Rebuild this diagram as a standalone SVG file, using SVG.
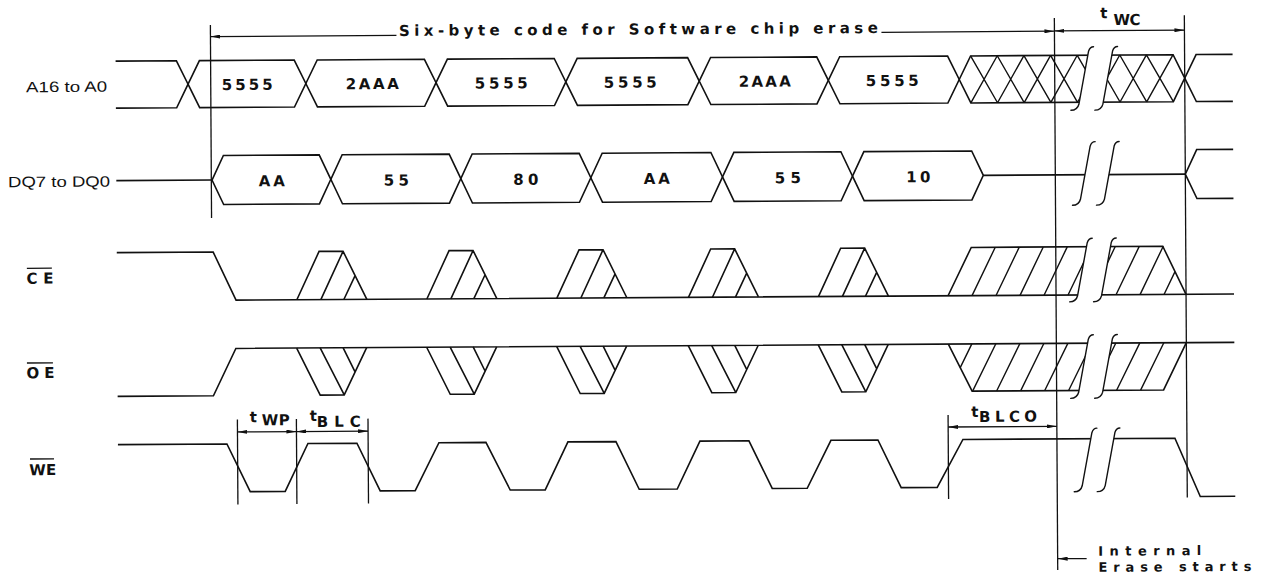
<svg xmlns="http://www.w3.org/2000/svg" xmlns:xlink="http://www.w3.org/1999/xlink" width="1266" height="578" viewBox="0 0 1266 578">
<style>
.s{fill:none;stroke:#111;stroke-width:1.6;stroke-linejoin:miter}
.h{fill:none;stroke:#111;stroke-width:1.4}
.v{fill:none;stroke:#111;stroke-width:1.3}
.m{fill:none;stroke:#111;stroke-width:1.4;stroke-linecap:round}
.gap{fill:#fff;stroke:none}
.p{font-family:"DejaVu Sans","Liberation Sans",sans-serif;font-weight:bold;font-size:15px;fill:#111}
.q{font-family:"DejaVu Sans","Liberation Sans",sans-serif;font-weight:bold;font-size:15px;fill:#111}
.r{font-family:"DejaVu Sans","Liberation Sans",sans-serif;font-weight:bold;font-size:13px;fill:#111}
.l{font-family:"Liberation Sans",Arial,sans-serif;font-size:15px;fill:#111}
.a{fill:none;stroke:#111;stroke-width:1.3;marker-start:url(#ar);marker-end:url(#ar)}
.ae{fill:none;stroke:#111;stroke-width:1.3;marker-end:url(#ar)}
.as{fill:none;stroke:#111;stroke-width:1.3;marker-start:url(#ar)}
</style>
<defs>
<marker id="ar" viewBox="0 0 10 4" refX="10" refY="2" markerWidth="10" markerHeight="4" markerUnits="userSpaceOnUse" orient="auto-start-reverse"><path d="M0,0 L10,2 L0,4 Z" fill="#111"/></marker>
<path id="brk" class="m" d="M-8,55 C-3,55 -1,53 0,49 L10,-4 C11,-7 12,-8.5 15,-8.5"/>
<path id="gp" class="gap" d="M9.8,-3 L33.8,-3 L23.8,50 L-0.2,50 Z"/>
<path id="cep" class="s" d="M0,297.7 L22.5,249.5 H46.5 L70,297.7 M24,297.7 L46.5,249.5 M47,297.7 L58.5,273.6"/>
<path id="oep" class="s" d="M0,346 L23.3,393.2 H47.3 L70,346 M23.5,346 L47.3,393.2 M46.5,346 L58,369.6"/>
<clipPath id="cal"><polygon points="960,50 1090.75,50 1078.5,115 960,115"/></clipPath>
<clipPath id="car"><polygon points="1114.75,50 1200,50 1200,115 1102.5,115"/></clipPath>
</defs>
<g transform="rotate(-0.35 633 289)">
<g id="sig-a">
<path class="s" d="M117,58 H177.8 L189.3,81.5 L177.8,105 H117"/>
<path class="s" d="M189.3,81.5 L200.8,58 H295.6 L307.1,81.5 L295.6,105 H200.8 Z"/>
<path class="s" d="M307.1,81.5 L318.6,58 H425.8 L437.3,81.5 L425.8,105 H318.6 Z"/>
<path class="s" d="M437.3,81.5 L448.8,58 H555.6 L567.1,81.5 L555.6,105 H448.8 Z"/>
<path class="s" d="M567.1,81.5 L578.6,58 H689 L700.5,81.5 L689,105 H578.6 Z"/>
<path class="s" d="M700.5,81.5 L712,58 H818.1 L829.6,81.5 L818.1,105 H712 Z"/>
<path class="s" d="M829.6,81.5 L841.1,58 H949 L960.5,81.5 L949,105 H841.1 Z"/>
<path class="s" d="M960.5,81.5 L972,58 H1174.5 L1186,81.5 L1174.5,105 H972 Z"/>
<path class="s" d="M1234,58 H1197.5 L1186,81.5 L1197.5,105 H1234"/>
<path class="h" clip-path="url(#cal)" d="M972,58 L998.67,105 M972,105 L998.67,58 M998.67,58 L1025.33,105 M998.67,105 L1025.33,58 M1025.33,58 L1052,105 M1025.33,105 L1052,58 M1052,58 L1078.67,105 M1052,105 L1078.67,58 M1078.67,58 L1105.33,105 M1078.67,105 L1105.33,58"/>
<path class="h" clip-path="url(#car)" d="M1067.83,58 L1094.5,105 M1067.83,105 L1094.5,58 M1094.5,58 L1121.17,105 M1094.5,105 L1121.17,58 M1121.17,58 L1147.83,105 M1121.17,105 L1147.83,58 M1147.83,58 L1174.5,105 M1147.83,105 L1174.5,58"/>
<text class="p" x="223" y="87.5" textLength="51" lengthAdjust="spacing">5555</text>
<text class="p" x="347" y="87.5" textLength="53" lengthAdjust="spacing">2AAA</text>
<text class="p" x="476" y="87.5" textLength="53" lengthAdjust="spacing">5555</text>
<text class="p" x="605" y="87.5" textLength="53" lengthAdjust="spacing">5555</text>
<text class="p" x="740" y="87.5" textLength="52" lengthAdjust="spacing">2AAA</text>
<text class="p" x="867" y="87.5" textLength="53" lengthAdjust="spacing">5555</text>
<text class="l" x="27.3" y="88.5" textLength="81" lengthAdjust="spacingAndGlyphs">A16 to A0</text>
</g>
<g id="sig-dq">
<path class="s" d="M117,177.5 H212.7"/>
<path class="s" d="M212.7,177.5 L224.2,153 H320 L331.5,177.5 L320,202 H224.2 Z"/>
<path class="s" d="M331.5,177.5 L343,153 H450 L461.5,177.5 L450,202 H343 Z"/>
<path class="s" d="M461.5,177.5 L473,153 H580 L591.5,177.5 L580,202 H473 Z"/>
<path class="s" d="M591.5,177.5 L603,153 H711.7 L723.2,177.5 L711.7,202 H603 Z"/>
<path class="s" d="M723.2,177.5 L734.7,153 H841.7 L853.2,177.5 L841.7,202 H734.7 Z"/>
<path class="s" d="M853.2,177.5 L864.7,153 H972.5 L984,177.5 L972.5,202 H864.7 Z"/>
<path class="s" d="M984,177.5 H1186"/>
<path class="s" d="M1234,153 H1197.5 L1186,177.5 L1197.5,202 H1234"/>
<text class="p" x="259.5" y="184" textLength="26" lengthAdjust="spacing">AA</text>
<text class="p" x="384.5" y="184" textLength="25" lengthAdjust="spacing">55</text>
<text class="p" x="514" y="184" textLength="25" lengthAdjust="spacing">80</text>
<text class="p" x="644.5" y="184" textLength="26" lengthAdjust="spacing">AA</text>
<text class="p" x="775.5" y="184" textLength="26" lengthAdjust="spacing">55</text>
<text class="p" x="907" y="184" textLength="24" lengthAdjust="spacing">10</text>
<text class="l" x="8.7" y="183.4" textLength="102" lengthAdjust="spacingAndGlyphs">DQ7 to DQ0</text>
</g>
<g id="sig-ce">
<path class="s" d="M117,249.5 H213.4 L236,297.7 H1234"/>
<use xlink:href="#cep" x="296.8"/>
<use xlink:href="#cep" x="426.8"/>
<use xlink:href="#cep" x="556.8"/>
<use xlink:href="#cep" x="688.4"/>
<use xlink:href="#cep" x="818.4"/>
<path class="s" d="M948,297.7 L971.5,249.5 H1163 L1186,297.7"/>
<path class="h" d="M972,297.7 L995.5,249.5 M996,297.7 L1019.5,249.5 M1020,297.7 L1043.5,249.5 M1044,297.7 L1067.5,249.5 M1068,297.7 L1091.5,249.5 M1092,297.7 L1115.5,249.5 M1116,297.7 L1139.5,249.5 M1140,297.7 L1163.5,249.5 M1164,297.7 L1175.1,274.9"/>
<text class="p" x="26.5" y="280" textLength="27" lengthAdjust="spacing">CE</text>
<path class="v" d="M27,264.6 H52"/>
</g>
<g id="sig-oe">
<path class="s" d="M117,393.2 H212.8 L235.5,346 H1234"/>
<use xlink:href="#oep" x="296.3"/>
<use xlink:href="#oep" x="426.3"/>
<use xlink:href="#oep" x="556.3"/>
<use xlink:href="#oep" x="687.9"/>
<use xlink:href="#oep" x="817.9"/>
<path class="s" d="M948,346 L971.5,393.2 H1163 L1186,346"/>
<path class="h" d="M959.75,369.6 L971.5,346 M972,393.2 L995.5,346 M996,393.2 L1019.5,346 M1020,393.2 L1043.5,346 M1044,393.2 L1067.5,346 M1068,393.2 L1091.5,346 M1092,393.2 L1115.5,346 M1116,393.2 L1139.5,346 M1140,393.2 L1163.5,346"/>
<text class="p" x="26" y="374.5" textLength="28" lengthAdjust="spacing">OE</text>
<path class="v" d="M26.5,359.3 H52.5"/>
</g>
<g id="sig-we">
<path class="s" d="M117,441.5 H226 L249,489.3 H284 L307,441.5 H356 L379,489.3 H414 L438,441.5 H485 L509,489.3 H544 L567,441.5 H615 L638,489.3 H676 L699,441.5 H748 L771,489.3 H806 L830,441.5 H877 L900,489.3 H936 L962,441.5 H1174 L1199,500 H1234"/>
<text class="p" x="28" y="471.5" textLength="27" lengthAdjust="spacing">WE</text>
<path class="v" d="M29,455.3 H53"/>
</g>
<g id="breaks">
<use xlink:href="#gp" x="1080" y="58"/>
<use xlink:href="#gp" x="1081" y="153"/>
<use xlink:href="#gp" x="1077.5" y="249.5"/>
<use xlink:href="#gp" x="1078" y="346"/>
<path class="gap" d="M1090.8,436.5 L1113.8,436.5 L1103.8,489.5 L1080.8,489.5 Z"/>
<use xlink:href="#brk" x="1080" y="58"/>
<use xlink:href="#brk" x="1104" y="58"/>
<use xlink:href="#brk" x="1081" y="153"/>
<use xlink:href="#brk" x="1105" y="153"/>
<use xlink:href="#brk" x="1077.5" y="249.5"/>
<use xlink:href="#brk" x="1101.5" y="249.5"/>
<use xlink:href="#brk" x="1078" y="346"/>
<use xlink:href="#brk" x="1102" y="346"/>
<use xlink:href="#brk" x="1081" y="439.5"/>
<use xlink:href="#brk" x="1104" y="439.5"/>
</g>
<g id="connectors">
<path class="v" d="M212,22.4 V215.4"/>
<path class="v" d="M1056,20.6 V572.6"/>
<path class="v" d="M1186,18.6 V501"/>
<path class="v" d="M236.6,417 V502"/>
<path class="v" d="M295.6,417 V502"/>
<path class="v" d="M367.2,417 V502"/>
<path class="v" d="M947.3,417 V501"/>
<path class="as" d="M212,34 H398"/>
<path class="ae" d="M883,33.8 H1056"/>
<path class="a" d="M1056,33.5 H1186"/>
<path class="a" d="M236.6,429.5 H295.6"/>
<path class="a" d="M295.6,429.5 H367.2"/>
<path class="a" d="M947.3,428.9 H1056"/>
<path class="ae" d="M1085,561.3 H1056"/>
</g>
<g id="labels">
<text class="p" x="400.5" y="34.5" textLength="479" lengthAdjust="spacing">Six-byte code for Software chip erase</text>
<text class="p" x="1102" y="21">t</text>
<text class="q" x="1115" y="28" textLength="27" lengthAdjust="spacing">WC</text>
<text class="p" x="249" y="420">t</text>
<text class="q" x="261" y="423" textLength="28" lengthAdjust="spacing">WP</text>
<text class="p" x="309" y="419">t</text>
<text class="q" x="316" y="425" textLength="44" lengthAdjust="spacing">BLC</text>
<text class="p" x="970.5" y="419">t</text>
<text class="q" x="978.3" y="424" textLength="58" lengthAdjust="spacing">BLCO</text>
<text class="r" x="1096.7" y="558.5" textLength="103" lengthAdjust="spacing">Internal</text>
<text class="r" x="1096.7" y="574.7" textLength="153" lengthAdjust="spacing">Erase starts</text>
</g>
</g>
</svg>
